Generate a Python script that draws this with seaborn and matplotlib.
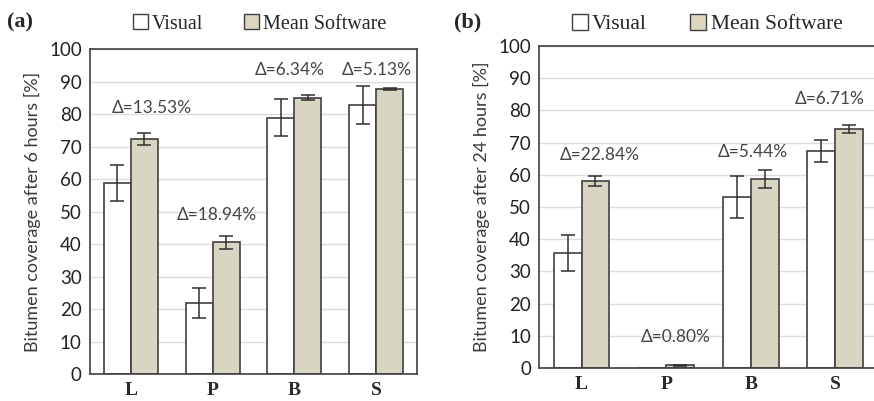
import pandas as pd
import matplotlib.pyplot as plt
import seaborn as sns
from matplotlib.patches import Patch

# ===========================
# Data
# ===========================
categories = ['L', 'P', 'B', 'S']
series = ['Visual', 'Mean Software']

visual_6h = [58.8, 21.8, 78.8, 82.8]
visual_6h_err = [5.6, 4.7, 5.7, 5.8]
software_6h = [72.3, 40.6, 85.0, 87.7]
software_6h_err = [1.8, 2.0, 0.7, 0.3]
delta_6h = ['Δ=13.53%', 'Δ=18.94%', 'Δ=6.34%', 'Δ=5.13%']

visual_24h = [35.7, 0.0, 53.1, 67.4]
visual_24h_err = [5.6, 0.0, 6.5, 3.4]
software_24h = [58.1, 0.8, 58.7, 74.2]
software_24h_err = [1.5, 0.2, 2.8, 1.3]
delta_24h = ['Δ=22.84%', 'Δ=0.80%', 'Δ=5.44%', 'Δ=6.71%']

# label placement (x offset from category, y in data units)
delta_6h_pos = [(0.26, 81.8), (0.05, 48.9), (-0.05, 93.5), (0.01, 93.5)]
delta_24h_pos = [(0.22, 66.1), (0.11, 9.6), (0.02, 67.0), (-0.06, 83.5)]

edge = '#404040'
beige = '#ddd7bf'
serif = 'Liberation Serif'
sans = 'Lato'

sns.set_style('white')
plt.rcParams['font.family'] = sans

fig = plt.figure(figsize=(8.74, 4.01), dpi=100)
ax_a = fig.add_axes([0.103, 0.0673, 0.374, 0.8105])
ax_b = fig.add_axes([0.617, 0.0823, 0.387, 0.803])


def draw_panel(ax, vis, vis_err, soft, soft_err, deltas, dpos, ylabel, tag, leg_x, leg_size):
    df = pd.DataFrame({
        'cat': categories * 2,
        'serie': [series[0]] * 4 + [series[1]] * 4,
        'val': vis + soft,
    })
    sns.barplot(data=df, x='cat', y='val', hue='serie', order=categories,
                hue_order=series, palette=['white', beige], width=0.66,
                edgecolor=edge, linewidth=1.2, errorbar=None, legend=False,
                ax=ax, zorder=2)
    # error bars on top of each bar
    for cont, errs in zip(ax.containers, [vis_err, soft_err]):
        for bar, e in zip(cont, errs):
            if e <= 0:
                continue
            xc = bar.get_x() + bar.get_width() / 2
            ax.errorbar(xc, bar.get_height(), yerr=e, color='#303030',
                        lw=1.1, capsize=5, capthick=1.1, zorder=3)
    for i, (txt, (dx, y)) in enumerate(zip(deltas, dpos)):
        ax.text(i + dx, y, txt, ha='center', va='center', fontsize=12.5,
                color='#454545', family=sans)

    ax.set_xlim(-0.5, 3.5)
    ax.set_ylim(0, 100)
    ax.set_yticks(range(0, 101, 10))
    ax.yaxis.grid(True, color='#dcdcdc', lw=1, zorder=0)
    ax.set_axisbelow(True)
    ax.set_xlabel('')
    ax.set_ylabel(ylabel, fontsize=13, color='#3a3a3a', labelpad=6)
    ax.tick_params(axis='y', labelsize=13.5, labelcolor='#222222', length=0, pad=6)
    ax.tick_params(axis='x', length=0, pad=6)
    for lab in ax.get_xticklabels():
        lab.set_fontfamily(serif)
        lab.set_fontsize(14)
        lab.set_fontweight('bold')
        lab.set_color('#2a2a2a')
    for sp in ax.spines.values():
        sp.set_color('#404040')
        sp.set_linewidth(1.2)

    handles = [Patch(facecolor='white', edgecolor=edge, lw=1),
               Patch(facecolor=beige, edgecolor=edge, lw=1)]
    fig.legend(handles, series, loc='center', bbox_to_anchor=(leg_x, 0.94),
               ncol=2, frameon=False, handlelength=0.75, handleheight=0.75,
               handletextpad=0.2, columnspacing=2.0,
               prop={'family': serif, 'size': leg_size})
    fig.text(tag[1], 0.945, tag[0], fontsize=16, fontweight='bold',
             family=serif, ha='left', va='center')


draw_panel(ax_a, visual_6h, visual_6h_err, software_6h, software_6h_err,
           delta_6h, delta_6h_pos, 'Bitumen coverage after 6 hours [%]',
           ('(a)', 0.008), 0.297, 14.5)
draw_panel(ax_b, visual_24h, visual_24h_err, software_24h, software_24h_err,
           delta_24h, delta_24h_pos, 'Bitumen coverage after 24 hours [%]',
           ('(b)', 0.52), 0.809, 15.5)

plt.savefig('out.png', dpi=100)
